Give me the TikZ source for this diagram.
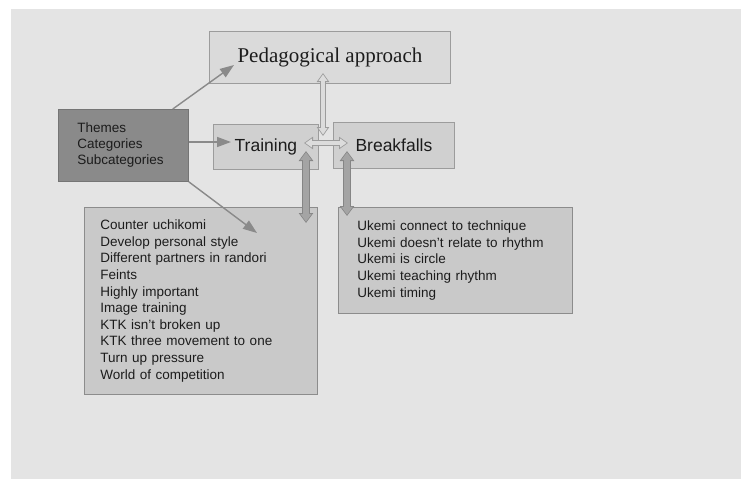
\documentclass[tikz,border=0pt]{standalone}
\usepackage{fontspec}
\setmainfont{Liberation Sans}
\newfontfamily\titlefont{Liberation Serif}
\usetikzlibrary{arrows.meta,calc}

\definecolor{canvas}{HTML}{E4E4E4}
\definecolor{pedfill}{HTML}{DADADA}
\definecolor{midfill}{HTML}{D0D0D0}
\definecolor{darkfill}{HTML}{8A8A8A}
\definecolor{listfill}{HTML}{C9C9C9}
\definecolor{edge}{HTML}{9C9C9C}
\definecolor{linkgray}{HTML}{8A8A8A}
\definecolor{hollowfill}{HTML}{DCDCDC}
\definecolor{solidarrow}{HTML}{A4A4A4}
\definecolor{inkcol}{HTML}{1C1C1C}

\begin{document}
\begin{tikzpicture}[x=1pt,y=-1pt,
  box/.style={draw=edge, line width=0.9pt, anchor=north west, inner sep=0pt, text=inkcol},
  pedbox/.style={box, fill=pedfill, font=\titlefont\fontsize{21pt}{24pt}\selectfont},
  midbox/.style={box, fill=midfill, font=\fontsize{17.5pt}{20pt}\selectfont},
  themebox/.style={box, draw=darkfill!85!black, fill=darkfill, align=left,
    font=\fontsize{13.5pt}{16pt}\selectfont},
  listbox/.style={box, draw=edge!90!black, fill=listfill, align=left,
    font=\fontsize{13.5pt}{16.6pt}\selectfont},
  thinarrow/.style={draw=linkgray, line width=1.4pt,
    -{Triangle[length=14pt,width=10pt]}},
  hollowout/.style={draw=edge, line width=6pt,
    {Triangle[length=9pt,width=12pt]}-{Triangle[length=9pt,width=12pt]}},
  hollowin/.style={draw=hollowfill, line width=3.2pt, shorten <=1.4pt, shorten >=1.4pt,
    {Triangle[length=6.5pt,width=8.5pt]}-{Triangle[length=6.5pt,width=8.5pt]}},
  solidout/.style={draw=edge!85!black, line width=8pt,
    {Triangle[length=10pt,width=14pt]}-{Triangle[length=10pt,width=14pt]}},
  solidin/.style={draw=solidarrow, line width=6pt, shorten <=1.2pt, shorten >=1.2pt,
    {Triangle[length=8pt,width=11pt]}-{Triangle[length=8pt,width=11pt]}}
]
\useasboundingbox (0,0) rectangle (741,479);
\fill[white] (0,0) rectangle (741,479);
\fill[canvas] (11,9) rectangle (741,479);

% boxes
\node[pedbox, minimum width=241pt, minimum height=52pt] (ped) at (209,31) {Pedagogical approach};
\node[themebox, minimum width=130pt, minimum height=72pt, text width=92pt, inner xsep=19pt]
  (themes) at (58,109) {Themes\\Categories\\Subcategories};
\node[midbox, minimum width=105pt, minimum height=45pt] (training) at (213,124) {Training};
\node[midbox, minimum width=121pt, minimum height=46pt] (breakfalls) at (333,122) {Breakfalls};
\node[listbox, minimum width=233pt, minimum height=187pt, text width=201pt, inner xsep=16pt]
  (trainlist) at (84,207) {Counter uchikomi\\Develop personal style\\Different partners in randori\\Feints\\Highly important\\Image training\\KTK isn't broken up\\KTK three movement to one\\Turn up pressure\\World of competition};
\node[listbox, minimum width=234pt, minimum height=106pt, text width=196pt, inner xsep=19pt]
  (falllist) at (338,207) {Ukemi connect to technique\\Ukemi doesn't relate to rhythm\\Ukemi is circle\\Ukemi teaching rhythm\\Ukemi timing};

% arrow end points
\coordinate (pedtip) at (234,65);
\coordinate (traintip) at (231,142);
\coordinate (listtip) at (257,233);
\coordinate (pedlow) at (323,73);
\coordinate (junction) at (323,136);
\coordinate (trainright) at (304,143);
\coordinate (fallleft) at (348,143);
\coordinate (trainfoot) at (306,151);
\coordinate (trainlisttop) at (306,223);
\coordinate (fallfoot) at (347,151);
\coordinate (falllisttop) at (347,216);

% links from the themes box
\draw[thinarrow] ($(themes.north west)!0.877!(themes.north east)$) -- (pedtip);
\draw[thinarrow] (themes.east |- traintip) -- (traintip);
\draw[thinarrow] (themes.south east) -- (listtip);

% two-way links
\draw[hollowout] (pedlow) -- (junction);
\draw[hollowin] (pedlow) -- (junction);
\draw[hollowout] (trainright) -- (fallleft);
\draw[hollowin] (trainright) -- (fallleft);
\draw[solidout] (trainfoot) -- (trainlisttop);
\draw[solidin] (trainfoot) -- (trainlisttop);
\draw[solidout] (fallfoot) -- (falllisttop);
\draw[solidin] (fallfoot) -- (falllisttop);
\end{tikzpicture}
\end{document}
